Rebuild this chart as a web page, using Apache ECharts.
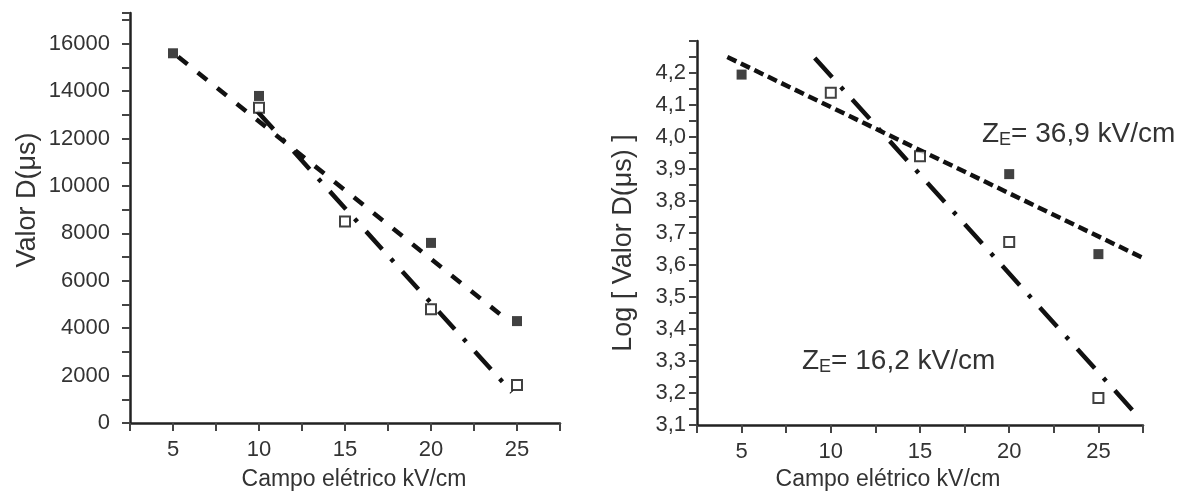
<!DOCTYPE html>
<html>
<head>
<meta charset="utf-8">
<script src="https://cdn.jsdelivr.net/npm/echarts@6/dist/echarts.min.js"></script>
<style>
  html, body { margin: 0; background: #fff; }
  #chart { width: 1184px; height: 496px; }
</style>
</head>
<body>
<div id="chart"></div>
<script>
// campo elétrico (kV/cm) e valor D (µs) -- quadrados cheios / vazios
const campoCheio = [5, 10, 20, 25]
const valorCheio = [15600, 13800, 7600, 4300]
const campoVazio = [10, 15, 20, 25]
const valorVazio = [13300, 8500, 4800, 1600]

// escala log
const campoLogCheio = [5, 20, 25]
const logCheio = [4.195, 3.884, 3.634]
const campoLogVazio = [10, 15, 20, 25]
const logVazio = [4.138, 3.94, 3.672, 3.184]

// retas de ajuste (pontos extremos)
const ajusteCheio = [[5.3, 15450], [24.0, 4600]]
const ajusteVazio = [[9.9, 13150], [24.7, 1300]]
const ajusteLogCheio = [[4.2, 4.25], [27.5, 3.622]]
const ajusteLogVazio = [[9.1, 4.247], [26.9, 3.147]]

const rotuloX = 'Campo elétrico kV/cm'
const rotuloY = 'Valor D(μs)'
const rotuloYLog = 'Log [ Valor D(μs) ]'
const textoZe1 = '36,9 kV/cm'
const textoZe2 = '16,2 kV/cm'

const fonte = '"Liberation Sans", Arial, sans-serif'
const preto = '#111'

const par = (xs, ys) => xs.map((x, i) => [x, ys[i]])

function eixoX (gridIndex) {
  return {
    type: 'value',
    gridIndex,
    min: 2.5,
    max: 27.5,
    interval: 2.5,
    axisLine: { lineStyle: { color: '#222', width: 2.5 } },
    axisTick: { length: 8, lineStyle: { color: '#444', width: 2 } },
    axisLabel: {
      margin: 16,
      fontSize: 22,
      color: '#333',
      fontFamily: fonte,
      formatter: v => (v % 5 === 0 ? String(v) : '')
    },
    splitLine: { show: false }
  }
}

function pontos (data, cheio, x, y) {
  return {
    type: 'scatter',
    xAxisIndex: x,
    yAxisIndex: y,
    symbol: 'rect',
    symbolSize: 10,
    z: 3,
    itemStyle: cheio
      ? { color: preto }
      : { color: '#fff', borderColor: preto, borderWidth: 2 },
    data
  }
}

function reta (data, tracado, x, y) {
  return {
    type: 'line',
    xAxisIndex: x,
    yAxisIndex: y,
    showSymbol: false,
    symbol: 'none',
    z: 2,
    lineStyle: { color: preto, width: 4.5, type: tracado, cap: 'butt' },
    data
  }
}

function ze (x, y, valor) {
  return {
    type: 'text',
    x,
    y,
    style: {
      text: '{z|Z}{e|E}{z|= ' + valor + '}',
      fill: '#333',
      align: 'left',
      verticalAlign: 'middle',
      rich: {
        z: { fontSize: 28, lineHeight: 30, fontFamily: fonte, fill: '#333' },
        e: { fontSize: 18, lineHeight: 22, verticalAlign: 'bottom', fontFamily: fonte, fill: '#333' }
      }
    }
  }
}

const chart = echarts.init(document.getElementById('chart'))

chart.setOption({
  animation: false,
  backgroundColor: '#fff',
  grid: [
    { left: 130, top: 13, width: 430, height: 410 },
    { left: 697, top: 41, width: 446, height: 384 }
  ],
  xAxis: [eixoX(0), eixoX(1)],
  yAxis: [
    {
      type: 'value',
      gridIndex: 0,
      min: 0,
      max: 17300,
      interval: 1000,
      axisLine: { show: true, lineStyle: { color: '#222', width: 2.5 } },
      axisTick: { show: true, length: 8, lineStyle: { color: '#444', width: 2 } },
      axisLabel: {
        margin: 20,
        fontSize: 22,
        color: '#333',
        fontFamily: fonte,
        formatter: v => (v % 2000 === 0 && v <= 16000 ? String(v) : '')
      },
      splitLine: { show: false }
    },
    {
      type: 'value',
      gridIndex: 1,
      min: 3.1,
      max: 4.3,
      interval: 0.05,
      axisLine: { show: true, lineStyle: { color: '#222', width: 2.5 } },
      axisTick: { show: true, length: 8, lineStyle: { color: '#444', width: 2 } },
      axisLabel: {
        margin: 11,
        fontSize: 22,
        color: '#333',
        fontFamily: fonte,
        formatter: v => {
          const k = Math.round(v * 100)
          return k % 10 === 0 && k < 430 ? (k / 100).toFixed(1).replace('.', ',') : ''
        }
      },
      splitLine: { show: false }
    }
  ],
  graphic: [
    {
      type: 'text', x: 28, y: 200, rotation: Math.PI / 2,
      style: { text: rotuloY, fontSize: 27, fontFamily: fonte, fill: '#333', align: 'center', verticalAlign: 'middle' }
    },
    {
      type: 'text', x: 624, y: 243, rotation: Math.PI / 2,
      style: { text: rotuloYLog, fontSize: 27, fontFamily: fonte, fill: '#333', align: 'center', verticalAlign: 'middle' }
    },
    {
      type: 'text', x: 354, y: 480,
      style: { text: rotuloX, fontSize: 23, fontFamily: fonte, fill: '#333', align: 'center', verticalAlign: 'middle' }
    },
    {
      type: 'text', x: 888, y: 480,
      style: { text: rotuloX, fontSize: 23, fontFamily: fonte, fill: '#333', align: 'center', verticalAlign: 'middle' }
    },
    ze(982, 134, textoZe1),
    ze(802, 361, textoZe2)
  ],
  series: [
    reta(ajusteCheio, [12, 13], 0, 0),
    reta(ajusteVazio, [24, 13, 4, 13], 0, 0),
    pontos(par(campoCheio, valorCheio), true, 0, 0),
    pontos(par(campoVazio, valorVazio), false, 0, 0),
    reta(ajusteLogCheio, [10, 5], 1, 1),
    reta(ajusteLogVazio, [26, 13, 4, 13], 1, 1),
    pontos(par(campoLogCheio, logCheio), true, 1, 1),
    pontos(par(campoLogVazio, logVazio), false, 1, 1)
  ]
})
</script>
</body>
</html>
